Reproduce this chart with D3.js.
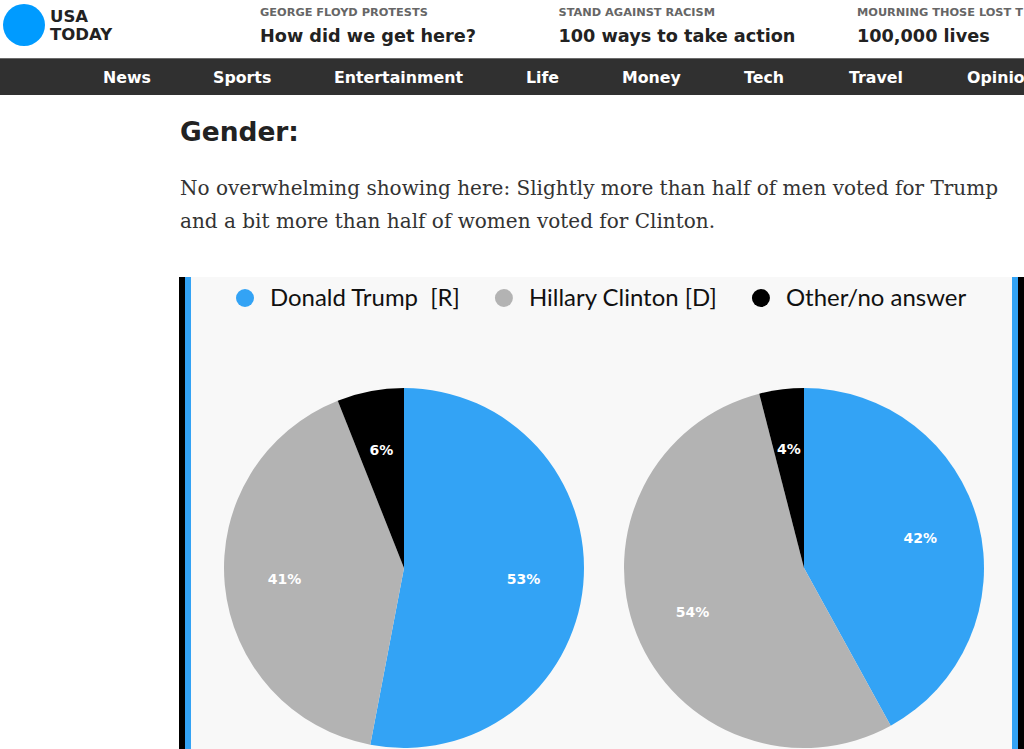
<!DOCTYPE html>
<html>
<head>
<meta charset="utf-8">
<script src="https://cdn.jsdelivr.net/npm/d3@7"></script>
<style>
  html, body { margin: 0; padding: 0; background: #fff; overflow: hidden; }
  svg { display: block; }
</style>
</head>
<body>
<div id="page"></div>
<script>
// header content
const promoKickers = ["GEORGE FLOYD PROTESTS", "STAND AGAINST RACISM", "MOURNING THOSE LOST T"];
const promoTitles = ["How did we get here?", "100 ways to take action", "100,000 lives"];
const navItems = ["News", "Sports", "Entertainment", "Life", "Money", "Tech", "Travel", "Opinion"];

// chart data
const candidates = ["Donald Trump  [R]", "Hillary Clinton [D]", "Other/no answer"];
const groups = ["Men", "Women"];
const menShare = [53, 41, 6];
const womenShare = [42, 54, 4];

const colors = ["#33a3f5", "#b3b3b3", "#000000"];

const width = 1024, height = 749;
const headFont = "'DejaVu Sans', sans-serif";

const svg = d3.select("#page").append("svg")
  .attr("width", width)
  .attr("height", height);

// shrink/grow a text's font so it spans the given width
function fitWidth(sel, base, target) {
  const w = sel.node().getComputedTextLength();
  const size = base * target / w;
  sel.attr("font-size", size);
  return size;
}

// ---- top header ----
svg.append("circle")
  .attr("cx", 24).attr("cy", 25).attr("r", 21)
  .attr("fill", "#009bff");

const logo = svg.append("text")
  .attr("font-family", headFont).attr("font-weight", 700)
  .attr("font-size", 16.5).attr("fill", "#222");
logo.append("tspan").attr("x", 50).attr("y", 22).text("USA");
logo.append("tspan").attr("x", 50).attr("y", 40).text("TODAY");

const promoX = d3.scalePoint().domain(d3.range(3)).range([260, 857]);

const kickers = svg.selectAll("text.kicker")
  .data(promoKickers)
  .join("text")
  .attr("class", "kicker")
  .attr("x", (d, i) => promoX(i)).attr("y", 16)
  .attr("font-family", headFont).attr("font-weight", 700)
  .attr("font-size", 12).attr("fill", "#666")
  .text(d => d);
const ks = fitWidth(kickers.filter((d, i) => i === 0), 12, 168);
kickers.attr("font-size", ks);

const titles = svg.selectAll("text.promo")
  .data(promoTitles)
  .join("text")
  .attr("class", "promo")
  .attr("x", (d, i) => promoX(i)).attr("y", 42)
  .attr("font-family", headFont).attr("font-weight", 700)
  .attr("font-size", 18).attr("fill", "#222")
  .text(d => d);
const ts = fitWidth(titles.filter((d, i) => i === 0), 18, 216);
titles.attr("font-size", ts);

// ---- nav bar ----
svg.append("rect")
  .attr("x", 0).attr("y", 58).attr("width", width).attr("height", 37)
  .attr("fill", "#303030");
svg.append("line")
  .attr("x1", 0).attr("x2", width).attr("y1", 58.5).attr("y2", 58.5)
  .attr("stroke", "#6b6b6b");

const navX = [103, 213, 334, 526, 622, 744, 849, 967];
const nav = svg.selectAll("text.nav")
  .data(navItems)
  .join("text")
  .attr("class", "nav")
  .attr("x", (d, i) => navX[i]).attr("y", 83)
  .attr("font-family", headFont).attr("font-weight", 700)
  .attr("font-size", 16).attr("fill", "#fff")
  .text(d => d);
const ns = fitWidth(nav.filter((d, i) => i === 2), 16, 129);
nav.attr("font-size", ns);

// ---- article heading and text ----
const heading = svg.append("text")
  .attr("x", 180).attr("y", 141)
  .attr("font-family", headFont).attr("font-weight", 700)
  .attr("font-size", 26).attr("fill", "#222")
  .text("Gender:");
fitWidth(heading, 26, 119);

const para = [
  "No overwhelming showing here: Slightly more than half of men voted for Trump",
  "and a bit more than half of women voted for Clinton."
];
const paraText = svg.selectAll("text.para")
  .data(para)
  .join("text")
  .attr("class", "para")
  .attr("x", 180).attr("y", (d, i) => 195 + i * 33)
  .attr("font-family", "'DejaVu Serif', serif")
  .attr("font-size", 19).attr("fill", "#333")
  .text(d => d);
const ps = fitWidth(paraText.filter((d, i) => i === 0), 19, 819);
paraText.attr("font-size", ps);

// ---- chart panel ----
const panel = svg.append("g");
panel.append("rect")
  .attr("x", 179).attr("y", 277).attr("width", 845).attr("height", 480)
  .attr("fill", "#000");
panel.append("rect")
  .attr("x", 185).attr("y", 277).attr("width", 833).attr("height", 480)
  .attr("fill", "#33a3f5");
panel.append("rect")
  .attr("x", 191).attr("y", 277).attr("width", 821).attr("height", 480)
  .attr("fill", "#f8f8f8");

// legend
const legendFont = "Lato, sans-serif";
const legend = panel.append("g");
const probe = legend.append("text")
  .attr("font-family", legendFont).attr("font-size", 21)
  .style("white-space", "pre")
  .text(candidates[0]);
const ls = fitWidth(probe, 21, 190);
probe.remove();

let lx = 245;
candidates.forEach((c, i) => {
  legend.append("circle")
    .attr("cx", lx).attr("cy", 298).attr("r", 9)
    .attr("fill", colors[i]);
  const t = legend.append("text")
    .attr("x", lx + 25).attr("y", 306)
    .attr("font-family", legendFont)
    .attr("font-size", ls).attr("fill", "#111")
    .style("white-space", "pre")
    .text(c);
  lx += 25 + t.node().getComputedTextLength() + 44;
});

// pies
const radius = 180;
const cx = d3.scalePoint().domain(groups).range([404, 804]);
const cy = 568;

const pie = d3.pie().sort(null).value(d => d);
const arc = d3.arc().innerRadius(0).outerRadius(radius);
const labelArc = d3.arc().innerRadius(radius * 2 / 3).outerRadius(radius * 2 / 3);

[menShare, womenShare].forEach((shares, gi) => {
  const g = panel.append("g")
    .attr("transform", `translate(${cx(groups[gi])},${cy})`);

  const arcs = pie(shares);

  g.selectAll("path")
    .data(arcs)
    .join("path")
    .attr("d", arc)
    .attr("fill", (d, i) => colors[i]);

  g.selectAll("text")
    .data(arcs)
    .join("text")
    .attr("transform", d => `translate(${labelArc.centroid(d)})`)
    .attr("text-anchor", "middle")
    .attr("dy", "0.35em")
    .attr("font-family", headFont).attr("font-weight", 700)
    .attr("font-size", 14).attr("fill", "#fff")
    .text(d => d.data + "%");
});
</script>
</body>
</html>
